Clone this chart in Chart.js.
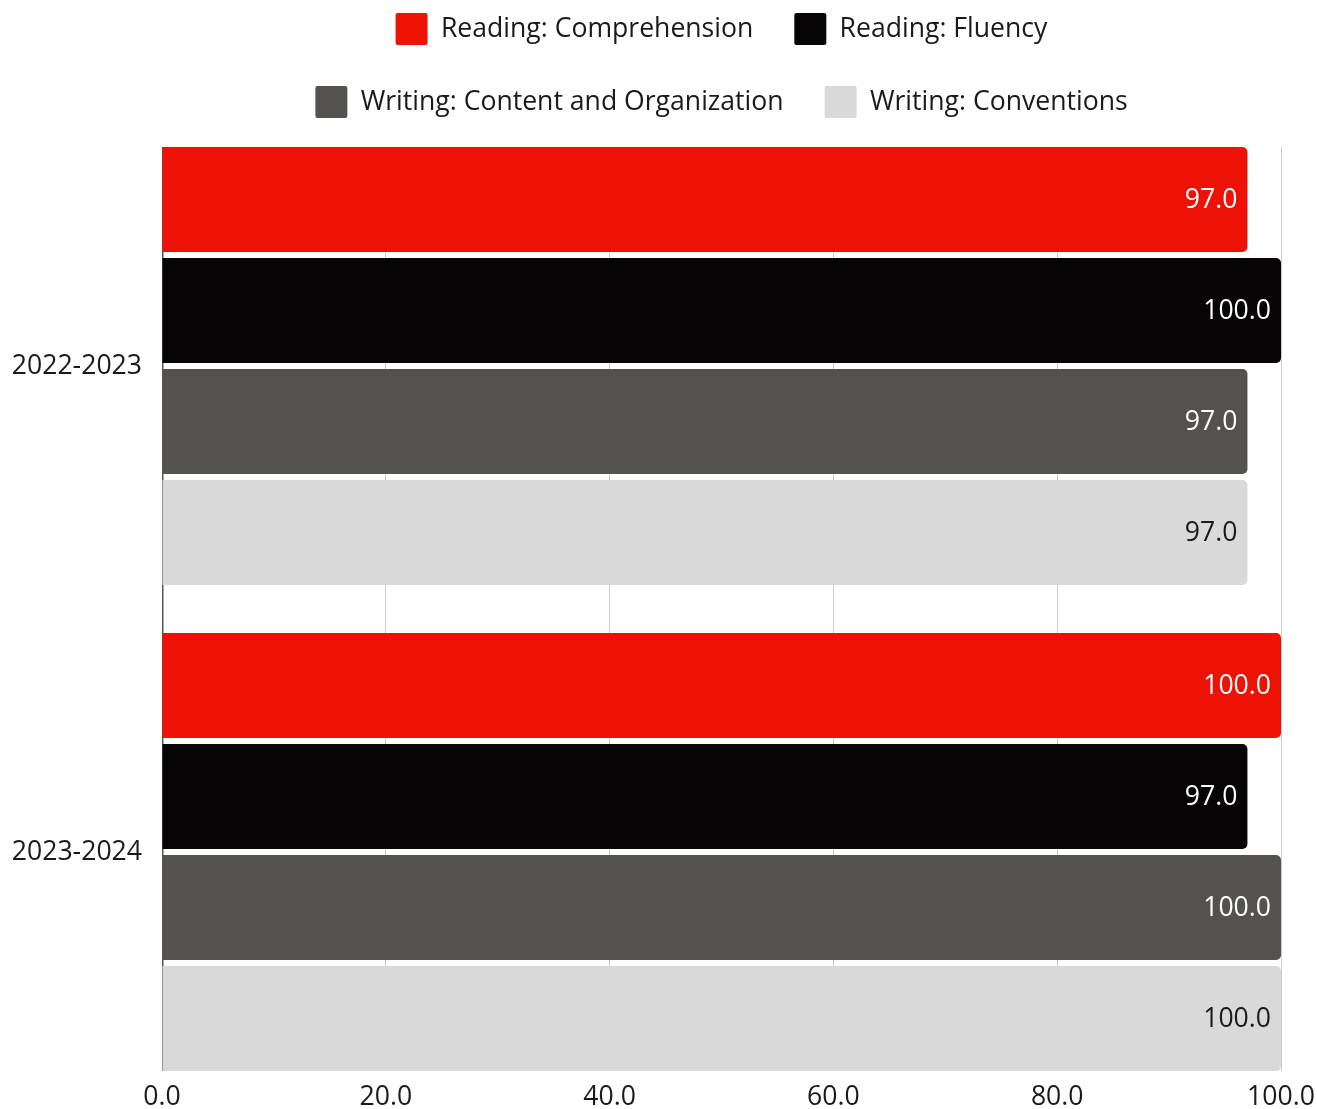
<!DOCTYPE html>
<html>
<head>
<meta charset="utf-8">
<script src="https://cdn.jsdelivr.net/npm/chart.js@4/dist/chart.umd.min.js"></script>
<style>
  html, body { margin: 0; padding: 0; background: #ffffff; }
  #wrap { width: 1317px; height: 1109px; }
</style>
</head>
<body>
<div id="wrap"><canvas id="chart"></canvas></div>
<script>
// School years shown on the category axis
const years = ['2022-2023', '2023-2024'];

// Percent of students meeting the standard, per skill
const readingComprehension = [97.0, 100.0];
const readingFluency = [100.0, 97.0];
const writingContent = [97.0, 100.0];
const writingConventions = [97.0, 100.0];

// Value axis ticks
const xTicks = [0, 20, 40, 60, 80, 100];

const FONT = '"Open Sans", "Noto Sans", sans-serif';
const FONT_SIZE = 26.6;

// Category scale whose ends sit flush with the outer bars of each group
class SnugCategoryScale extends Chart.CategoryScale {
  buildTicks() {
    const ticks = super.buildTicks();
    const half = this.options.groupHalf;
    this._startValue = this.min - half;
    this._valueRange = (this.max - this.min) + 2 * half;
    return ticks;
  }
}
SnugCategoryScale.id = 'snugCategory';
SnugCategoryScale.defaults = Object.assign({}, Chart.CategoryScale.defaults, { groupHalf: 0.4506 });
Chart.register(SnugCategoryScale);

// Leaves some extra room between the legend and the plot
const legendGap = {
  id: 'legendGap',
  beforeLayout(chart, args, opts) {
    const lg = chart.legend;
    if (lg && !lg._gapPatched) {
      const fit = lg.fit.bind(lg);
      lg.fit = function () {
        fit();
        this.height += opts.gap;
      };
      lg._gapPatched = true;
    }
  }
};

// Baseline along the category axis, tucked just under the bars' start
const baseLine = {
  id: 'baseLine',
  beforeDatasetsDraw(chart) {
    const { ctx, chartArea } = chart;
    ctx.save();
    ctx.strokeStyle = '#555555';
    ctx.lineWidth = 1.5;
    ctx.beginPath();
    ctx.moveTo(chartArea.left + 0.75, chartArea.top);
    ctx.lineTo(chartArea.left + 0.75, chartArea.bottom);
    ctx.stroke();
    ctx.restore();
  }
};

// Writes each bar's value just inside its end
const valueLabels = {
  id: 'valueLabels',
  afterDatasetsDraw(chart) {
    const ctx = chart.ctx;
    ctx.save();
    ctx.font = FONT_SIZE + 'px ' + FONT;
    ctx.textAlign = 'right';
    ctx.textBaseline = 'middle';
    chart.data.datasets.forEach((ds, di) => {
      const meta = chart.getDatasetMeta(di);
      if (meta.hidden) return;
      meta.data.forEach((bar, i) => {
        const v = ds.data[i];
        ctx.fillStyle = ds.labelColor;
        ctx.fillText(v.toFixed(1), bar.x - 10, bar.y + 1);
      });
    });
    ctx.restore();
  }
};

const series = [
  { label: 'Reading: Comprehension', data: readingComprehension, color: '#ee1105', text: '#ffffff' },
  { label: 'Reading: Fluency', data: readingFluency, color: '#060405', text: '#ffffff' },
  { label: 'Writing: Content and Organization', data: writingContent, color: '#535250', text: '#ffffff' },
  { label: 'Writing: Conventions', data: writingConventions, color: '#d9d9d9', text: '#1a1a1a' }
];

new Chart(document.getElementById('chart'), {
  type: 'bar',
  data: {
    labels: years,
    datasets: series.map(s => ({
      label: s.label,
      data: s.data,
      backgroundColor: s.color,
      borderWidth: 0,
      borderRadius: 5,
      borderSkipped: 'start',
      labelColor: s.text,
      categoryPercentage: 0.9136,
      barPercentage: 0.9459
    }))
  },
  options: {
    indexAxis: 'y',
    responsive: true,
    maintainAspectRatio: false,
    animation: false,
    layout: { padding: { left: 0, right: 0, top: -28, bottom: -14 } },
    plugins: {
      legendGap: { gap: 19 },
      legend: {
        position: 'top',
        fullSize: false,
        labels: {
          font: { family: FONT, size: FONT_SIZE },
          color: '#1a1a1a',
          boxWidth: 32,
          boxHeight: 32,
          padding: 41,
          useBorderRadius: true,
          borderRadius: 2
        }
      },
      tooltip: { enabled: false }
    },
    scales: {
      x: {
        min: 0,
        max: 100,
        afterBuildTicks(scale) {
          scale.ticks = xTicks.map(v => ({ value: v }));
        },
        afterFit(scale) {
          scale.paddingLeft = 0;
          scale.paddingRight = 36;
        },
        ticks: {
          font: { family: FONT, size: FONT_SIZE },
          color: '#1a1a1a',
          padding: 10,
          maxRotation: 0,
          callback: v => Number(v).toFixed(1)
        },
        grid: {
          color: ctx => (ctx.index === 0 ? 'rgba(0,0,0,0)' : '#cccccc'),
          lineWidth: 1,
          drawTicks: false
        },
        border: { display: false }
      },
      y: {
        type: 'snugCategory',
        afterFit(scale) {
          scale.width = 162;
        },
        ticks: {
          font: { family: FONT, size: FONT_SIZE },
          color: '#1a1a1a',
          padding: 20
        },
        grid: { display: false, drawTicks: false },
        border: { display: false }
      }
    }
  },
  plugins: [legendGap, baseLine, valueLabels]
});
</script>
</body>
</html>
